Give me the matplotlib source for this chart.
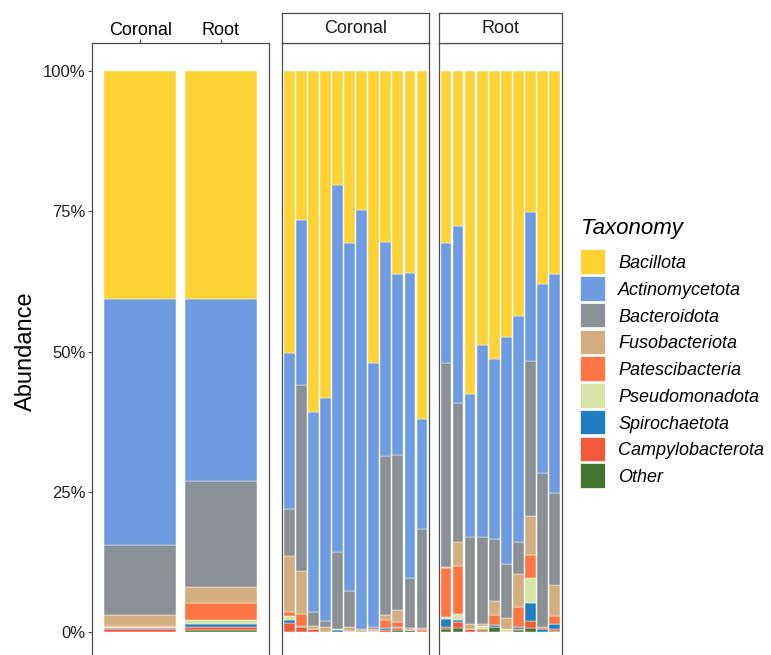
import matplotlib.pyplot as plt
from matplotlib.patches import Rectangle

plt.rcParams["font.family"] = ["Liberation Sans", "DejaVu Sans"]

taxa = ["Bacillota", "Actinomycetota", "Bacteroidota", "Fusobacteriota",
        "Patescibacteria", "Pseudomonadota", "Spirochaetota",
        "Campylobacterota", "Other"]
colors = ["#FDD235", "#6F9BE0", "#8A9096", "#D2AE80", "#FF7645",
          "#D6E5A6", "#1F7EC1", "#F05A3A", "#447530"]

# relative abundance (%) per site, pooled
sites = ["Coronal", "Root"]
pooled = {
    "Bacillota":        [40.6, 40.6],
    "Actinomycetota":   [43.9, 32.5],
    "Bacteroidota":     [12.4, 18.9],
    "Fusobacteriota":   [2.0, 2.9],
    "Patescibacteria":  [0.3, 3.0],
    "Pseudomonadota":   [0.15, 0.7],
    "Spirochaetota":    [0.15, 0.6],
    "Campylobacterota": [0.45, 0.45],
    "Other":            [0.05, 0.35],
}

# relative abundance (%) per coronal sample
coronal = {
    "Bacillota":        [50.3, 26.6, 60.7, 58.2, 20.3, 30.6, 24.8, 52.1, 30.4, 36.2, 35.9, 62.1],
    "Actinomycetota":   [27.8, 29.4, 35.7, 39.8, 65.4, 62.1, 74.6, 47.1, 38.3, 32.2, 54.4, 19.5],
    "Bacteroidota":     [8.4, 33.1, 2.5, 1.05, 13.8, 6.5, 0.2, 0.3, 28.3, 27.7, 9.05, 17.75],
    "Fusobacteriota":   [9.9, 7.75, 0.6, 0.95, 0.0, 0.6, 0.4, 0.3, 0.85, 2.05, 0.35, 0.35],
    "Patescibacteria":  [0.7, 2.1, 0, 0, 0, 0, 0, 0, 1.5, 0.9, 0, 0.3],
    "Pseudomonadota":   [0.75, 0, 0, 0, 0.2, 0, 0, 0, 0, 0, 0, 0],
    "Spirochaetota":    [0.6, 0.25, 0, 0, 0.3, 0, 0, 0, 0.35, 0.3, 0, 0],
    "Campylobacterota": [1.55, 0.8, 0.5, 0, 0, 0.2, 0, 0.2, 0.3, 0.35, 0, 0],
    "Other":            [0, 0, 0, 0, 0, 0, 0, 0, 0, 0.3, 0.3, 0],
}

# relative abundance (%) per root sample
root = {
    "Bacillota":        [30.6, 27.6, 57.6, 48.8, 51.3, 47.4, 43.6, 25.1, 38.0, 36.2],
    "Actinomycetota":   [21.5, 31.6, 25.4, 34.3, 32.2, 40.5, 40.3, 26.5, 33.6, 39.1],
    "Bacteroidota":     [36.3, 24.8, 15.5, 15.5, 11.0, 9.6, 5.8, 27.8, 27.5, 16.3],
    "Fusobacteriota":   [0.2, 4.2, 0.9, 0.3, 2.5, 2.0, 5.9, 6.8, 0, 5.5],
    "Patescibacteria":  [8.8, 8.6, 0, 0, 1.75, 0, 3.6, 4.1, 0.4, 1.5],
    "Pseudomonadota":   [0.2, 1.1, 0, 0.5, 0, 0.5, 0, 4.6, 0, 0],
    "Spirochaetota":    [1.45, 0.4, 0, 0, 0.45, 0, 0.25, 3.1, 0.5, 0.8],
    "Campylobacterota": [0.35, 1.05, 0.6, 0.35, 0, 0, 0.15, 1.3, 0, 0.4],
    "Other":            [0.6, 0.65, 0, 0.25, 0.8, 0, 0.4, 0.7, 0, 0.2],
}

W, H = 771, 655
fig = plt.figure(figsize=(W / 100, H / 100), dpi=100)

border = "#4d4d4d"
panel_top, panel_bot = 43.3, 660.0
strip_top = 13.3


def px_axes(x0, x1, y0, y1):
    return fig.add_axes([x0 / W, (H - y1) / H, (x1 - x0) / W, (y1 - y0) / H])


def stacked(ax, data, n):
    xs = list(range(n))
    bottom = [0.0] * n
    # stack from the last taxon up so Bacillota ends on top
    for name, col in zip(reversed(taxa), reversed(colors)):
        vals = data[name]
        ax.bar(xs, vals, bottom=bottom, width=0.9, color=col,
               edgecolor="white", linewidth=0.3)
        bottom = [b + v for b, v in zip(bottom, vals)]
    ax.set_xlim(-0.6, n - 1 + 0.6)
    ax.set_ylim(-5, 105)
    for s in ax.spines.values():
        s.set_color(border)
        s.set_linewidth(0.9)


# pooled panel
ax0 = px_axes(91.7, 269.3, panel_top, panel_bot)
stacked(ax0, pooled, len(sites))
ax0.xaxis.tick_top()
ax0.set_xticks(range(len(sites)))
ax0.set_xticklabels(sites, fontsize=13)
ax0.set_yticks([0, 25, 50, 75, 100])
ax0.set_yticklabels(["0%", "25%", "50%", "75%", "100%"], fontsize=12, color="#222222")
ax0.tick_params(axis="both", length=2.6, width=0.8, color=border)
ax0.tick_params(axis="x", pad=0.4)
ax0.tick_params(axis="y", pad=2)
ax0.set_ylabel("Abundance", fontsize=17, labelpad=4)

# faceted sample panels
facets = [("Coronal", coronal, 282.0, 429.3), ("Root", root, 438.7, 561.7)]
for title, data, x0, x1 in facets:
    n = len(data["Bacillota"])
    ax = px_axes(x0, x1, panel_top, panel_bot)
    stacked(ax, data, n)
    ax.set_xticks([])
    ax.set_yticks([])
    sx = px_axes(x0, x1, strip_top, panel_top)
    sx.set_xticks([])
    sx.set_yticks([])
    for s in sx.spines.values():
        s.set_color(border)
        s.set_linewidth(0.9)
    sx.text(0.5, 0.5, title, ha="center", va="center", fontsize=13,
            color="#1a1a1a", transform=sx.transAxes)

# legend, laid out in pixel positions
fig.text(581 / W, 1 - 234.3 / H, "Taxonomy", fontsize=16, style="italic",
         ha="left", va="baseline")
key_top, key_step, key_size = 249.3, 26.75, 24.5
for i, (name, col) in enumerate(zip(taxa, colors)):
    top = key_top + i * key_step
    fig.add_artist(Rectangle((580 / W, 1 - (top + key_size) / H),
                             25 / W, key_size / H, transform=fig.transFigure,
                             facecolor=col, edgecolor="white", linewidth=0.5))
    fig.text(618.3 / W, 1 - (top + key_size / 2 + 6.6) / H, name,
             fontsize=13, style="italic", ha="left", va="baseline")

fig.savefig("out.png", dpi=100)
